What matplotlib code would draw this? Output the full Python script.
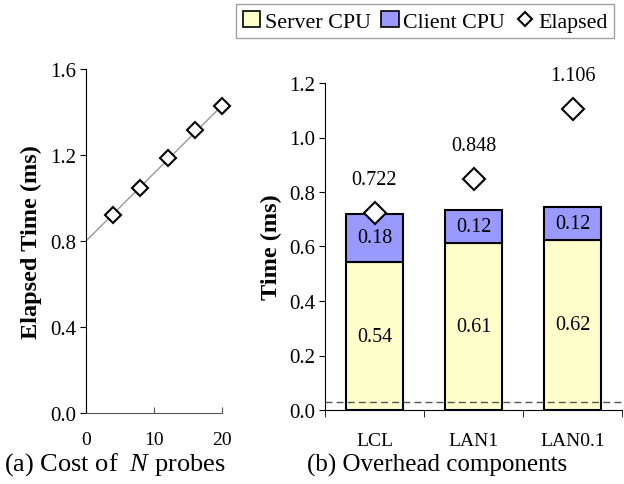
import numpy as np
import matplotlib
matplotlib.use("Agg")
import matplotlib.pyplot as plt
from matplotlib.lines import Line2D
from matplotlib.patches import Patch

plt.rcParams['font.family'] = ['Liberation Serif', 'DejaVu Serif']
plt.rcParams['mathtext.fontset'] = 'custom'
plt.rcParams['mathtext.it'] = 'Liberation Serif:italic'
plt.rcParams['mathtext.rm'] = 'Liberation Serif'

# (a) cost of N probes
probes = [4, 8, 12, 16, 20]
probe_time = [0.922, 1.046, 1.186, 1.316, 1.429]
trend_x = [0, 20]
trend_y = [0.80, 1.43]

# (b) overhead components
configs = ['LCL', 'LAN1', 'LAN0.1']
server_cpu = [0.543, 0.613, 0.624]
client_cpu = [0.177, 0.12, 0.12]
elapsed = [0.722, 0.848, 1.106]
baseline = 0.03

server_color = '#FFFFCC'
client_color = '#9999FF'

fig = plt.figure(figsize=(6.24, 4.85), dpi=100)

# left panel
ax1 = fig.add_axes([86/624, 1 - 414/485, 136/624, 344/485])
ax1.plot(trend_x, trend_y, color='#999999', lw=1, zorder=1)
ax1.plot(probes, probe_time, ls='none', marker='D', ms=8.5, mfc='white',
         mec='black', mew=1.5, zorder=2, clip_on=False)
ax1.set_xlim(0, 20)
ax1.set_ylim(0, 1.6)
ax1.set_yticks([0, 0.4, 0.8, 1.2, 1.6])
ax1.set_yticklabels(['0.0', '0.4', '0.8', '1.2', '1.6'])
ax1.set_xticks([0, 10, 20])
ax1.spines['top'].set_visible(False)
ax1.spines['right'].set_visible(False)
ax1.spines['bottom'].set_color('#555555')
ax1.tick_params(axis='y', direction='out', length=4, labelsize=15, pad=3)
ax1.tick_params(axis='x', direction='in', length=4, labelsize=14, pad=13, color='#555555')
ax1.set_ylabel('Elapsed Time (ms)', fontsize=17.5, fontweight='bold', labelpad=6)

# right panel
ax2 = fig.add_axes([325/624, 1 - 411/485, 297/624, 327/485])
x = np.arange(len(configs))
w = 0.58
ax2.bar(x, server_cpu, w, color=server_color, edgecolor='black', lw=1.5, zorder=2)
ax2.bar(x, client_cpu, w, bottom=server_cpu, color=client_color, edgecolor='black', lw=1.5, zorder=2)
ax2.axhline(baseline, color='#555555', lw=1, ls=(0, (5, 3)), zorder=3)
ax2.plot(x, elapsed, ls='none', marker='D', ms=11, mfc='white', mec='black', mew=1.5, zorder=4)

for i in range(len(configs)):
    ax2.text(x[i], server_cpu[i] / 2, '%.2f' % server_cpu[i], ha='center', va='center', fontsize=14.5, zorder=5)
    ax2.text(x[i], server_cpu[i] + client_cpu[i] / 2, '%.2f' % client_cpu[i], ha='center', va='center', fontsize=14.5, zorder=5)
    ax2.annotate('%.3f' % elapsed[i], (x[i], elapsed[i]), xytext=(0, 24), textcoords='offset points',
                 ha='center', va='center', fontsize=14.5)

ax2.set_xlim(-0.5, 2.5)
ax2.set_ylim(0, 1.2)
ax2.set_yticks(np.arange(0, 1.21, 0.2))
ax2.set_yticklabels(['%.1f' % v for v in np.arange(0, 1.21, 0.2)])
ax2.set_xticks(x)
ax2.set_xticklabels(configs)
ax2.set_xticks([-0.5, 0.5, 1.5, 2.5], minor=True)
ax2.tick_params(axis='x', which='major', length=0, labelsize=14, pad=16)
ax2.tick_params(axis='x', which='minor', direction='out', length=5)
ax2.tick_params(axis='y', direction='out', length=4, labelsize=15, pad=3)
ax2.spines['top'].set_visible(False)
ax2.spines['right'].set_visible(False)
ax2.set_ylabel('Time (ms)', fontsize=17.5, fontweight='bold', labelpad=5)

handles = [Patch(facecolor=server_color, edgecolor='black', lw=1.2),
           Patch(facecolor=client_color, edgecolor='black', lw=1.2),
           Line2D([], [], ls='none', marker='D', ms=7.5, mfc='white', mec='black', mew=1.5)]
leg = fig.legend(handles, ['Server CPU', 'Client CPU', 'Elapsed'], loc='upper left',
                 bbox_to_anchor=(236/624, 1 - 5/485), ncol=3, fontsize=15.8, frameon=True,
                 fancybox=False, edgecolor='#888888', handlelength=0.8, handleheight=0.8,
                 handletextpad=0.2, columnspacing=0.5, borderpad=0.3, borderaxespad=0)
leg.get_frame().set_linewidth(1)

fig.text(4/624, 1 - 465/485, '(a) Cost of  $N$ probes', fontsize=19, ha='left', va='center')
fig.text(307/624, 1 - 465/485, '(b) Overhead components', fontsize=18, ha='left', va='center')

fig.savefig('out.png', dpi=100)
